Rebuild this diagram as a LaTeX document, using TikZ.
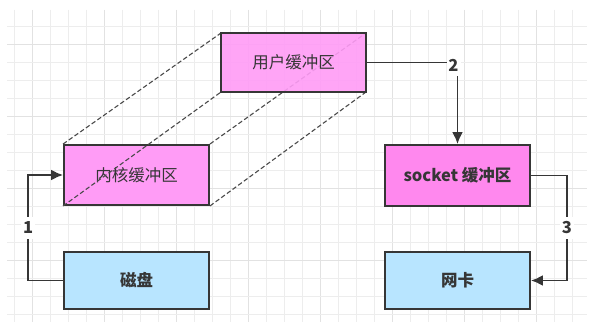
\documentclass[tikz,border=0pt]{standalone}
\usepackage{fontspec}
\newfontfamily\cjk{Noto Sans CJK SC}
\usetikzlibrary{arrows.meta}
\definecolor{pinkA}{HTML}{FF9CF6}
\definecolor{pinkB}{HTML}{FF88EE}
\definecolor{blueA}{HTML}{B8E5FF}
\definecolor{edge}{HTML}{363636}
\definecolor{gridminor}{HTML}{EDEDED}
\definecolor{gridmajor}{HTML}{E2E2E2}
\tikzset{
  box/.style={draw=edge, line width=1.9pt, minimum width=145pt, minimum height=59pt,
    inner sep=0pt, font=\cjk\fontsize{16.5pt}{19pt}\selectfont, text=edge},
  conn/.style={draw=edge, line width=1.9pt, -{Latex[length=12pt,width=11pt]}},
  lbl/.style={fill=white, inner sep=1pt, minimum height=22pt, minimum width=14pt,
    font=\cjk\bfseries\fontsize{16.5pt}{19pt}\selectfont, text=edge},
  dashline/.style={draw=edge!90, line width=1.1pt, dash pattern=on 4.5pt off 2.5pt},
}
\begin{document}
\begin{tikzpicture}[x=1pt,y=-1pt]
\useasboundingbox (0,0) rectangle (607,326);
\fill[white] (0,0) rectangle (607,326);
% grid
\foreach \k in {0,...,31} {
  \pgfmathtruncatemacro{\m}{mod(\k,4)}
  \ifnum\m=1 \def\gc{gridmajor}\else\def\gc{gridminor}\fi
  \draw[\gc, line width=0.8pt] ({14+18*\k},10) -- ({14+18*\k},322);
}
\foreach \k in {0,...,16} {
  \pgfmathtruncatemacro{\m}{mod(\k,4)}
  \ifnum\m=1 \def\gc{gridmajor}\else\def\gc{gridminor}\fi
  \draw[\gc, line width=0.8pt] (7,{26+18*\k}) -- (587,{26+18*\k});
}
% boxes
\node[box, fill=pinkA, minimum height=60pt] (kernel) at (136.5,175) {内核缓冲区};
\node[box, fill=blueA, minimum height=57pt] (disk) at (136.5,280.5) {\bfseries 磁盘};
\node[box, fill=pinkB, minimum height=61pt] (socket) at (457.5,175.5) {\bfseries socket 缓冲区};
\node[box, fill=blueA, minimum height=57pt] (nic) at (457.5,280.5) {\bfseries 网卡};
% dashed cuboid edges
\draw[dashline] (kernel.north west) -- (221,33);
\draw[dashline] (kernel.south west) -- (221,92);
\draw[dashline] (kernel.north east) -- (366,33);
\draw[dashline] (kernel.south east) -- (366,92);
\node[box, fill=pinkA, fill opacity=0.9, text opacity=1] (user) at (293.5,62.5) {用户缓冲区};
% connectors
\draw[conn] (disk.west) -- ++(-35,0) |- node[lbl, pos=0.25] {1} (kernel.west);
\draw[conn] (user.east) -| node[lbl, pos=0.5, xshift=-4pt, yshift=-3pt] {2} (socket.north);
\draw[conn] (socket.east) -- ++(36,0) |- node[lbl, pos=0.25] {3} (nic.east);
\end{tikzpicture}
\end{document}
